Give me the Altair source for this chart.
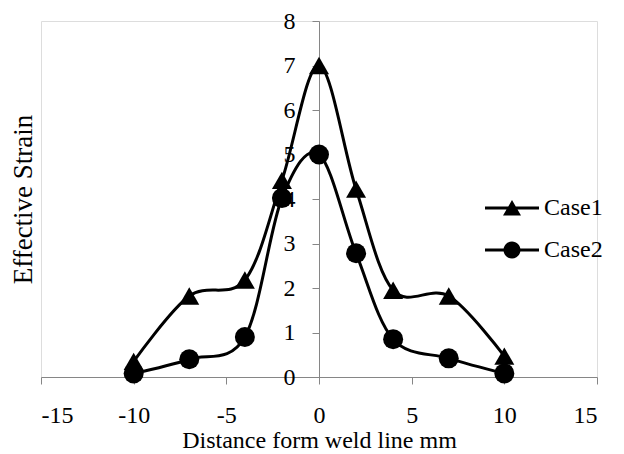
import altair as alt
import pandas as pd

x_vals = [-10, -7, -4, -2, 0, 2, 4, 7, 10]
case1 = [0.35, 1.82, 2.18, 4.42, 7.0, 4.22, 1.95, 1.82, 0.47]
case2 = [0.08, 0.40, 0.90, 4.02, 5.0, 2.78, 0.85, 0.42, 0.08]
series_names = ["Case1", "Case2"]
x_ticks = [-15, -10, -5, 0, 5, 10, 15]
y_ticks = [0, 1, 2, 3, 4, 5, 6, 7, 8]

rows = []
for name, vals in zip(series_names, [case1, case2]):
    for xv, yv in zip(x_vals, vals):
        rows.append({"x": xv, "y": yv, "series": name})
df = pd.DataFrame(rows)

FONT = "Liberation Serif"
AX = "#868686"
LBL = 24

xenc = alt.X("x:Q", scale=alt.Scale(domain=[-15, 15], nice=False, zero=False),
             axis=alt.Axis(values=x_ticks, title="Distance form weld line mm",
                           labelExpr="replace(datum.label, '\u2212', '-')",
                           grid=False, domainColor=AX, tickColor=AX, tickSize=7,
                           labelPadding=19, labelFontSize=LBL, labelFont=FONT,
                           labelColor="black", titleFont=FONT, titleFontSize=24,
                           titleFontWeight="normal", titleColor="black",
                           titleY=70, titleBaseline="alphabetic"))
yenc = alt.Y("y:Q", scale=alt.Scale(domain=[0, 8], nice=False),
             axis=alt.Axis(values=y_ticks, title="Effective Strain", grid=False,
                           domainColor=AX, tickColor=AX, tickSize=7, labelPadding=17,
                           labelFontSize=LBL, labelFont=FONT, labelColor="black",
                           offset=-278, titleFont=FONT, titleFontSize=27,
                           titleFontWeight="normal", titleColor="black",
                           titleX=-296, titleY=178, titleBaseline="middle",
                           titleAngle=270))

base = alt.Chart(df)

lines = base.mark_line(interpolate="cardinal", strokeWidth=3, color="black").encode(
    x=xenc, y=yenc, detail="series:N")

tri = base.transform_filter(alt.datum.series == "Case1").mark_point(
    filled=True, color="black", opacity=1, size=400, shape="triangle-up").encode(
    x="x:Q", y="y:Q")
circ = base.transform_filter(alt.datum.series == "Case2").mark_point(
    filled=True, color="black", opacity=1, size=400, shape="circle").encode(
    x="x:Q", y="y:Q")

path_tri = "M-2.7,-0.15H2.7V0.15H-2.7Z M0,-0.8L0.9,0.75H-0.9Z"
path_circ = ("M-2.7,-0.15H2.7V0.15H-2.7Z M-0.85,0A0.85,0.85 0 1,1 0.85,0"
             "A0.85,0.85 0 1,1 -0.85,0Z")

leg = base.mark_point(filled=True, color="black", size=0).encode(
    x="x:Q", y="y:Q",
    shape=alt.Shape("series:N",
                    scale=alt.Scale(domain=series_names, range=[path_tri, path_circ]),
                    legend=alt.Legend(title=None, orient="none", legendX=459, legendY=175,
                                      symbolSize=400, symbolStrokeWidth=0,
                                      symbolFillColor="black", symbolOpacity=1,
                                      labelFont=FONT, labelFontSize=24,
                                      labelColor="black", labelOffset=20,
                                      rowPadding=18)))

chart = alt.layer(lines, tri, circ, leg).properties(
    width=556, height=356,
    autosize=alt.AutoSizeParams(type="none"),
    padding={"left": 33, "top": 13, "right": 10, "bottom": 76},
).configure_view(stroke=None).configure(background="white")

chart.save("out.html", embed_options={"renderer": "svg", "actions": False})
